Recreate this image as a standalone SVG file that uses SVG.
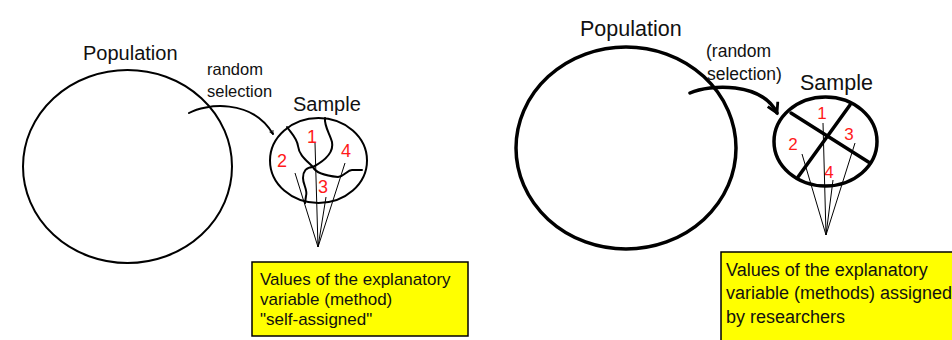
<svg xmlns="http://www.w3.org/2000/svg" width="952" height="340" viewBox="0 0 952 340">
<style>
.t{font-family:"Liberation Sans",Arial,sans-serif;fill:#111}
.n{font-family:"Liberation Sans",Arial,sans-serif;fill:#ff1a1a}
.thin{fill:none;stroke:#000;stroke-width:2;stroke-linecap:round;stroke-linejoin:round}
.thick{fill:none;stroke:#000;stroke-width:3.5;stroke-linecap:round}
.ray{fill:none;stroke:#000;stroke-width:1}
.box{fill:#ffff00;stroke:#000;stroke-width:1.5}
</style>
<defs>
<marker id="ah" viewBox="0 0 10 10" refX="8" refY="5" markerWidth="5" markerHeight="5" orient="auto" markerUnits="userSpaceOnUse">
<path d="M1,1 L8,5 L1,9" fill="none" stroke="#000" stroke-width="1.6"/>
</marker>
<marker id="ah2" viewBox="0 0 10 10" refX="8" refY="5" markerWidth="4" markerHeight="4" orient="auto">
<path d="M1,1 L8,5 L1,9" fill="none" stroke="#000" stroke-width="2"/>
</marker>
</defs>
<rect width="952" height="340" fill="#fff"/>

<!-- Left panel -->
<g id="population-left">
<ellipse class="thin" cx="127.5" cy="166.5" rx="104.5" ry="96.5"/>
<text class="t" x="83" y="60" font-size="20">Population</text>
</g>
<g id="sample-left">
<ellipse class="thin" cx="318.5" cy="160.5" rx="48.5" ry="42.5"/>
<text class="t" x="293" y="111" font-size="20">Sample</text>
<path class="thin" d="M287,127 C292,134 297,138 298,146 C299,155 306,160 313,167"/>
<path class="thin" d="M325,118 C324,126 330,134 332,142 C334,152 326,160 313,167"/>
<path class="thin" d="M313,167 C306,167 303,172 303,178 C303,185 308,190 306,196 L305,203"/>
<path class="thin" d="M313,167 C316,174 328,176 338,177 C345,176 347,170 352,170 L362,170"/>
<text class="n" x="312" y="143" font-size="18" text-anchor="middle">1</text>
<text class="n" x="282" y="167" font-size="18" text-anchor="middle">2</text>
<text class="n" x="323" y="193" font-size="18" text-anchor="middle">3</text>
<text class="n" x="346" y="157" font-size="18" text-anchor="middle">4</text>
</g>
<g id="values-left">
<rect class="box" x="252" y="262" width="216" height="74"/>
<text class="t" font-size="17"><tspan x="260" y="285">Values of the explanatory</tspan><tspan x="260" y="305">variable (method)</tspan><tspan x="260" y="325">"self-assigned"</tspan></text>
</g>

<!-- Right panel -->
<g id="population-right">
<ellipse class="thick" cx="626" cy="148" rx="110" ry="101"/>
<text class="t" x="580" y="36" font-size="21.5">Population</text>
</g>
<g id="sample-right">
<ellipse class="thick" cx="825.5" cy="141.5" rx="51.5" ry="44.5"/>
<text class="t" x="800" y="90" font-size="21.5">Sample</text>
<line class="thick" x1="791" y1="113" x2="870" y2="163"/>
<line class="thick" x1="850" y1="105" x2="798" y2="177"/>
<text class="n" x="822" y="119" font-size="17" text-anchor="middle">1</text>
<text class="n" x="793" y="150" font-size="17" text-anchor="middle">2</text>
<text class="n" x="849" y="140" font-size="17" text-anchor="middle">3</text>
<text class="n" x="829" y="178" font-size="17" text-anchor="middle">4</text>
</g>
<g id="values-right">
<rect class="box" x="721" y="252" width="240" height="100"/>
<text class="t" font-size="18"><tspan x="726" y="276">Values of the explanatory</tspan><tspan x="726" y="299">variable (methods) assigned</tspan><tspan x="726" y="323">by researchers</tspan></text>
</g>

<g id="connectors">
<text class="t" font-size="16.5"><tspan x="207" y="75">random</tspan><tspan x="207" y="97">selection</tspan></text>
<path class="thin" d="M189,113 C205,104 252,98 273,134" marker-end="url(#ah)"/>
<g class="ray">
<line x1="295" y1="173" x2="318" y2="247"/>
<line x1="315" y1="143" x2="318" y2="247"/>
<line x1="326" y1="197" x2="318" y2="247"/>
<line x1="345" y1="163" x2="318" y2="247"/>
</g>
<text class="t" font-size="17.5"><tspan x="706" y="57">(random</tspan><tspan x="707" y="80">selection)</tspan></text>
<path class="thick" d="M690,93 C710,84 762,82 777,113" marker-end="url(#ah2)"/>
<g class="ray">
<line x1="823" y1="123" x2="826" y2="235"/>
<line x1="802" y1="154" x2="826" y2="235"/>
<line x1="855" y1="143" x2="826" y2="235"/>
<line x1="833" y1="180" x2="826" y2="235"/>
</g>
</g>
</svg>
